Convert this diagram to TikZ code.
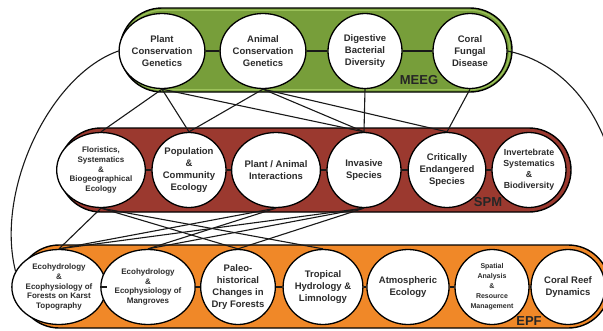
\documentclass[tikz,border=0pt]{standalone}
\usepackage{fontspec}
\setmainfont{Liberation Sans}
\usetikzlibrary{shapes.geometric,shapes.misc}
\pgfdeclarelayer{bg}
\pgfsetlayers{bg,main}
\definecolor{meegc}{HTML}{779E3A}
\definecolor{meegl}{HTML}{9CC25A}
\definecolor{spmc}{HTML}{9B392F}
\definecolor{epfc}{HTML}{F08828}
\definecolor{txt}{HTML}{2B2B2B}
\begin{document}
\begin{tikzpicture}[x=1pt,y=-1pt,
  bub/.style={ellipse, draw=black, line width=1.3pt, fill=white,
    minimum width=74pt, minimum height=75pt, inner sep=0pt, align=center,
    text=txt, font=\bfseries\fontsize{9.5}{12}\selectfont},
  smalltxt/.style={font=\bfseries\fontsize{8}{9.8}\selectfont},
  tinytxt/.style={font=\bfseries\fontsize{7}{10}\selectfont},
  midtxt/.style={font=\bfseries\fontsize{8.8}{11}\selectfont},
  band/.style={rounded rectangle, draw=black, line width=1.4pt, inner sep=0pt},
  link/.style={draw=black!90, line width=1.1pt},
  tag/.style={font=\bfseries\fontsize{13}{13}\selectfont, text=black!85, inner sep=0pt}]
\useasboundingbox (0,0) rectangle (603,330);
\clip (0,0) rectangle (603,330);

% MEEG circles
\node[bub] (plant)  at (162,51) {Plant\\Conservation\\Genetics};
\node[bub] (animal) at (263,51) {Animal\\Conservation\\Genetics};
\node[bub] (digest) at (365,51) {Digestive\\Bacterial\\Diversity};
\node[bub] (coralf) at (470,51) {Coral\\Fungal\\Disease};

% SPM circles
\node[bub,smalltxt] (flor) at (101,170) {Floristics,\\Systematics\\\&\\Biogeographical\\Ecology};
\node[bub] (pop)    at (189,170) {Population\\\&\\Community\\Ecology};
\node[bub] (pa)     at (276,170) {Plant / Animal\\Interactions};
\node[bub] (inv)    at (364,170) {Invasive\\Species};
\node[bub] (crit)   at (447,170) {Critically\\Endangered\\Species};
\node[bub,midtxt] (invert) at (529,170) {Invertebrate\\Systematics\\\&\\Biodiversity};

% EPF circles
\node[bub,smalltxt] (karst) at (59,287) {Ecohydrology\\\&\\Ecophysiology of\\Forests on Karst\\Topography};
\node[bub,smalltxt] (mang)  at (148,287) {Ecohydrology\\\&\\Ecophysiology of\\Mangroves};
\node[bub] (paleo) at (238,287) {Paleo-\\historical\\Changes in\\Dry Forests};
\node[bub] (trop)  at (323,287) {Tropical\\Hydrology \&\\Limnology};
\node[bub] (atmo)  at (408,287) {Atmospheric\\Ecology};
\node[bub,tinytxt] (spat) at (492,287) {Spatial\\Analysis\\\&\\Resource\\Management};
\node[bub] (reef)  at (568,287) {Coral Reef\\Dynamics};

% bands
\begin{pgfonlayer}{bg}
  \fill[white] (0,0) rectangle (603,330);
  \node[band, fill=meegc, minimum width=392pt, minimum height=84pt] (meeg) at (316,50) {};
  \node[rounded rectangle, draw=meegl, line width=1.2pt, inner sep=0pt, minimum width=387.5pt, minimum height=79.5pt] (meegin) at (316,50) {};
  \node[band, fill=spmc, minimum width=512pt, minimum height=84pt] (spm) at (315,170) {};
  \node[band, fill=epfc, minimum width=592pt, minimum height=83pt] (epf) at (313.75,286.5) {};
\end{pgfonlayer}

\node[tag] (lmeeg) at (419,80) {MEEG};
\node[tag] (lspm) at (488,202) {SPM};
\node[tag] (lepf) at (529,321) {EPF};

% links inside bands
\draw[link] (plant) -- (animal);
\draw[link] (animal) -- (digest);
\draw[link] (digest) -- (coralf);
\draw[link] (flor) -- (pop);
\draw[link] (pop) -- (pa);
\draw[link] (pa) -- (inv);
\draw[link] (inv) -- (crit);
\draw[link] (crit) -- (invert);
\draw[link] (karst) -- (mang);
\draw[link] (mang) -- (paleo);
\draw[link] (paleo) -- (trop);
\draw[link] (trop) -- (atmo);
\draw[link] (atmo) -- (spat);
\draw[link] (spat) -- (reef);

% MEEG -> SPM
\draw[link] (plant.south) -- (flor.north);
\draw[link] (plant.south) -- (pop.north);
\draw[link] (plant.south) -- (inv.north);
\draw[link] (animal.south) -- (pop.north);
\draw[link] (animal.south) -- (inv.north);
\draw[link] (animal.south) -- (crit.north);
\draw[link] (digest.south) -- (inv.north);
\draw[link] (coralf.south) -- (crit.north);

% SPM -> EPF
\draw[link] (flor.south) -- (karst.north);
\draw[link] (flor.south) -- (paleo.north);
\draw[link] (flor.south) -- (trop.north);
\draw[link] (pa.south) -- (karst.north);
\draw[link] (pa.south) -- (mang.north);
\draw[link] (inv.south) -- (karst.north);
\draw[link] (inv.south) -- (mang.north);
\draw[link] (inv.south) -- (paleo.north);

% outer arcs
\coordinate (rightend) at (625,240);
\draw[link] (plant.west) .. controls (50,75) and (-5,190) .. (karst.160);
\draw[link] (coralf.east) .. controls (560,62) and (618,110) .. (rightend);
\end{tikzpicture}
\end{document}
